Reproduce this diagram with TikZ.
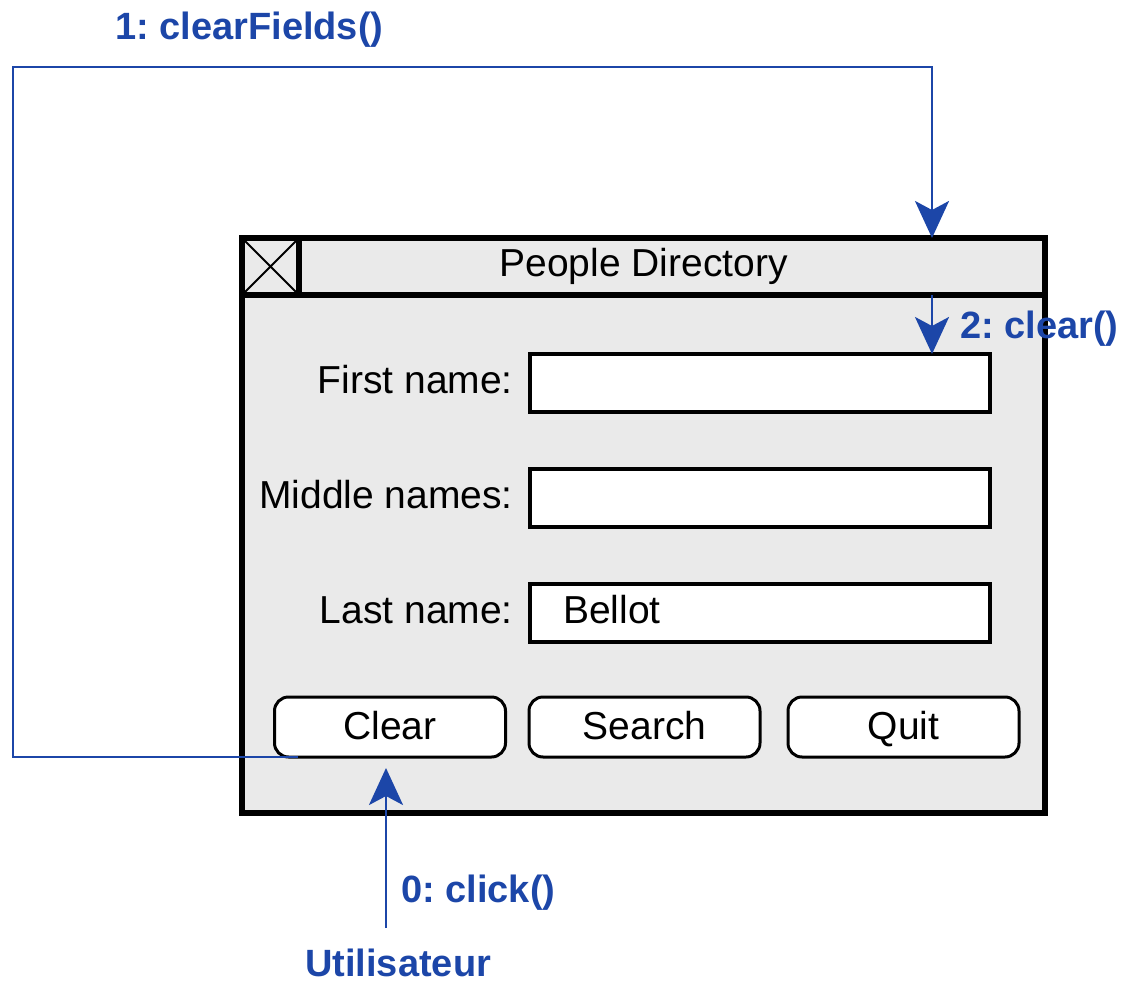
\documentclass[tikz,border=0pt]{standalone}
\usepackage{fontspec}
\setmainfont{Liberation Sans}
\usetikzlibrary{arrows.meta}
\definecolor{msgblue}{RGB}{28,70,168}
\definecolor{winfill}{RGB}{234,234,234}
\frenchspacing
\begin{document}
\begin{tikzpicture}[x=1pt,y=-1pt,
  winframe/.style={draw, line width=6pt, fill=winfill, inner sep=0, outer sep=0},
  bar/.style={draw, line width=6pt, inner sep=0, outer sep=0},
  field/.style={draw, line width=4pt, fill=white, minimum width=460pt, minimum height=58pt, inner sep=0, outer sep=0},
  button/.style={draw, line width=3pt, fill=white, rounded corners=14pt, minimum width=231pt, minimum height=60pt, inner sep=0, outer sep=0, text height=25pt, text depth=0pt, font=\fontsize{39}{41}\selectfont},
  uitext/.style={inner sep=0, font=\fontsize{39}{41}\selectfont},
  msgtext/.style={inner sep=0, text=msgblue, font=\fontsize{38}{40}\selectfont\bfseries},
  msg/.style={draw=msgblue, line width=2.6pt, -{Stealth[length=37pt,width=34pt,inset=9pt]}},
  wire/.style={draw=msgblue, line width=2.6pt}
]
\useasboundingbox (0,0) rectangle (1123,981);

% window frame, title bar and close box
\node[winframe, minimum width=803pt, minimum height=575pt] (win) at (643.5,525.5) {};
\node[bar, minimum width=803pt, minimum height=57pt] (titlebar) at (643.5,266.5) {};
\node[bar, minimum width=57pt, minimum height=57pt,
  path picture={\draw[line width=2pt] (path picture bounding box.north west) -- (path picture bounding box.south east)
                (path picture bounding box.north east) -- (path picture bounding box.south west);}] (closebox) at (270.5,266.5) {};
\node[uitext, anchor=base] (title) at (643.5,277) {People Directory};

% form fields
\node[field] (first) at (760,383) {};
\node[field] (middle) at (760,497.5) {};
\node[field] (last) at (760,612.5) {};
\node[uitext, anchor=base east] (firstlbl) at (513,393) {First name:};
\node[uitext, anchor=base east] (middlelbl) at (513,508) {Middle names:};
\node[uitext, anchor=base east] (lastlbl) at (513,623) {Last name:};
\node[uitext, anchor=base west] (lastval) at (563,623) {Bellot};

% buttons
\node[button] (clear) at (390,727) {Clear};
\node[button] (search) at (644.5,727) {Search};
\node[button] (quit) at (903.5,727) {Quit};

% messages
\coordinate (t1) at (932,238);
\coordinate (u0) at (386,928);
\node[msgtext, anchor=base west] (m1) at (115,40) {1: clearFields()};
\node[msgtext, anchor=base west] (m2) at (960,338) {2: clear()};
\node[msgtext, anchor=base west] (m0) at (401,902) {0: click()};
\node[msgtext, anchor=base west] (user) at (305,976) {Utilisateur};

\draw[wire] ([xshift=23pt]clear.south west) -- (13,757) -- (13,67) -- (932,67) -- ([yshift=30pt]t1);
\draw[msg] ([yshift=31pt]t1) -- (t1);
\draw[msg] (titlebar.south -| t1) -- (first.north -| t1);
\draw[msg] (u0) -- ([yshift=-11pt]clear.south -| u0);
\end{tikzpicture}
\end{document}
